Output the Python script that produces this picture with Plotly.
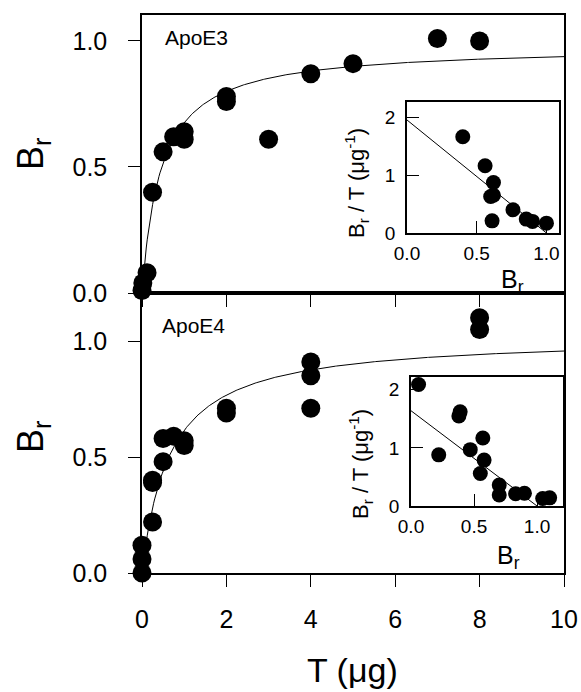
import numpy as np
import plotly.graph_objects as go

# ---------------- data ----------------
# ApoE3 main (T in ug, Br)
e3_T = [0.0, 0.02, 0.12, 0.25, 0.5, 0.75, 1.0, 1.0, 2.0, 2.0, 3.0, 4.0, 5.0, 7.0, 8.0]
e3_B = [0.01, 0.04, 0.08, 0.40, 0.56, 0.62, 0.64, 0.61, 0.76, 0.78, 0.61, 0.87, 0.91, 1.01, 1.00]
# ApoE3 Scatchard inset
e3_sx = [0.40, 0.56, 0.62, 0.62, 0.60, 0.61, 0.76, 0.855, 0.90, 1.00]
e3_sy = [1.66, 1.16, 0.87, 0.65, 0.63, 0.21, 0.40, 0.24, 0.20, 0.17]

# ApoE4 main
e4_T = [0.0, 0.0, 0.0, 0.25, 0.25, 0.25, 0.5, 0.5, 0.75, 1.0, 1.0, 2.0, 2.0, 4.0, 4.0, 4.0, 8.0, 8.0]
e4_B = [0.0, 0.06, 0.12, 0.22, 0.39, 0.40, 0.48, 0.58, 0.59, 0.55, 0.57, 0.69, 0.71, 0.71, 0.85, 0.91, 1.05, 1.10]
# ApoE4 Scatchard inset
e4_sx = [0.06, 0.39, 0.38, 0.22, 0.47, 0.57, 0.58, 0.55, 0.70, 0.70, 0.83, 0.90, 1.045, 1.10]
e4_sy = [2.09, 1.62, 1.55, 0.88, 0.97, 1.17, 0.79, 0.56, 0.36, 0.19, 0.21, 0.22, 0.13, 0.14]

# fit parameters (hyperbolic binding: Br = Bmax*T/(Kd+T); Scatchard: Br/T = (Bmax-Br)/Kd)
e3_fit = dict(bmax=0.98, kd=0.45)
e3_sfit = dict(bmax=1.00, kd=0.513)
e4_fit = dict(bmax=1.02, kd=0.66)
e4_sfit = dict(bmax=1.00, kd=0.61)

x_ticks = [0, 2, 4, 6, 8, 10]
y_ticks = [0.0, 0.5, 1.0]
in_x_ticks = [0.0, 0.5, 1.0]
in_y_ticks = [0, 1, 2]

# --------------- figure ---------------
W, H = 581, 692
def px(x):
    return x / W
def py(y):
    return 1 - y / H

T_line = np.linspace(0, 10, 400)
fig = go.Figure()

mk_main = dict(color="black", size=19)
mk_in = dict(color="black", size=15)
ln = dict(color="black", width=1)

# top main
fig.add_trace(go.Scatter(x=T_line, y=e3_fit["bmax"] * T_line / (e3_fit["kd"] + T_line),
                         mode="lines", line=ln, xaxis="x", yaxis="y", hoverinfo="skip"))
fig.add_trace(go.Scatter(x=e3_T, y=e3_B, mode="markers", marker=mk_main, cliponaxis=False,
                         xaxis="x", yaxis="y"))
# bottom main
fig.add_trace(go.Scatter(x=T_line, y=e4_fit["bmax"] * T_line / (e4_fit["kd"] + T_line),
                         mode="lines", line=ln, xaxis="x2", yaxis="y2", hoverinfo="skip"))
fig.add_trace(go.Scatter(x=e4_T, y=e4_B, mode="markers", marker=mk_main, cliponaxis=False,
                         xaxis="x2", yaxis="y2"))
# top inset
b3 = np.array([0.0, e3_sfit["bmax"]])
fig.add_trace(go.Scatter(x=b3, y=(e3_sfit["bmax"] - b3) / e3_sfit["kd"], mode="lines", line=ln,
                         xaxis="x3", yaxis="y3", hoverinfo="skip"))
fig.add_trace(go.Scatter(x=e3_sx, y=e3_sy, mode="markers", marker=mk_in, cliponaxis=False,
                         xaxis="x3", yaxis="y3"))
# bottom inset
b4 = np.array([0.0, e4_sfit["bmax"]])
fig.add_trace(go.Scatter(x=b4, y=(e4_sfit["bmax"] - b4) / e4_sfit["kd"], mode="lines", line=ln,
                         xaxis="x4", yaxis="y4", hoverinfo="skip"))
fig.add_trace(go.Scatter(x=e4_sx, y=e4_sy, mode="markers", marker=mk_in, cliponaxis=False,
                         xaxis="x4", yaxis="y4"))

FONT = "Liberation Sans, Arial, sans-serif"
main_x_dom = [px(142), px(564)]
ax_common = dict(showline=True, linecolor="black", linewidth=1.5, mirror=True, automargin=False,
                 showgrid=False, zeroline=False, ticks="outside", ticklen=12,
                 tickcolor="black", tickwidth=1, tickfont=dict(family=FONT, size=25, color="black"))
in_common = dict(showline=True, linecolor="black", linewidth=1.5, mirror=True, automargin=False,
                 showgrid=False, zeroline=False, ticks="inside", ticklen=12,
                 tickcolor="black", tickwidth=1, tickfont=dict(family=FONT, size=19, color="black"))

fig.update_layout(
    width=W, height=H, autosize=False,
    margin=dict(l=0, r=0, t=0, b=0, pad=0, autoexpand=False),
    paper_bgcolor="white", plot_bgcolor="white",
    showlegend=False,
    xaxis=dict(ax_common, domain=main_x_dom, range=[0, 10], tickvals=x_ticks,
               showticklabels=False, anchor="y"),
    yaxis=dict(ax_common, domain=[py(293), py(15)], range=[0, 1.103], tickvals=y_ticks,
               tickformat=".1f", anchor="x", ticklabelstandoff=16),
    xaxis2=dict(ax_common, domain=main_x_dom, range=[0, 10], tickvals=x_ticks,
                anchor="y2", ticklabelstandoff=11),
    yaxis2=dict(ax_common, domain=[py(573), py(293)], range=[0, 1.207], tickvals=y_ticks,
                tickformat=".1f", anchor="x2", ticklabelstandoff=16),
    xaxis3=dict(in_common, domain=[px(407), px(559)], range=[0, 1.09], tickvals=in_x_ticks,
                tickformat=".1f", anchor="y3", ticklabelstandoff=2),
    yaxis3=dict(in_common, domain=[py(233), py(102)], range=[0, 2.26], tickvals=in_y_ticks,
                anchor="x3", ticklabelstandoff=6),
    xaxis4=dict(in_common, domain=[px(411), px(563)], range=[0, 1.206], tickvals=in_x_ticks,
                tickformat=".1f", anchor="y4", ticklabelstandoff=2),
    yaxis4=dict(in_common, domain=[py(506), py(377)], range=[0, 2.22], tickvals=in_y_ticks,
                anchor="x4", ticklabelstandoff=6),
)

def ann(text, x, y, size, angle=0):
    fig.add_annotation(text=text, x=px(x), y=py(y), xref="paper", yref="paper",
                       showarrow=False, textangle=angle, xanchor="center", yanchor="middle",
                       font=dict(family=FONT, size=size, color="black"))

ann("ApoE3", 196, 38, 21)
ann("ApoE4", 193, 325, 21)
ann("B<sub>r</sub>", 33, 154, 36, -90)
ann("B<sub>r</sub>", 33, 437, 36, -90)
ann("T (μg)", 352, 670, 34)
ann("B<sub>r</sub> / T (μg<sup>-1</sup>)", 356, 183, 22, -90)
ann("B<sub>r</sub> / T (μg<sup>-1</sup>)", 360, 464, 22, -90)
ann("B<sub>r</sub>", 512, 281, 25)
ann("B<sub>r</sub>", 508, 557, 25)

fig.write_html("out.html", config={"displayModeBar": False},
               post_script="document.body.style.margin='0px';document.body.style.overflow='hidden';")
